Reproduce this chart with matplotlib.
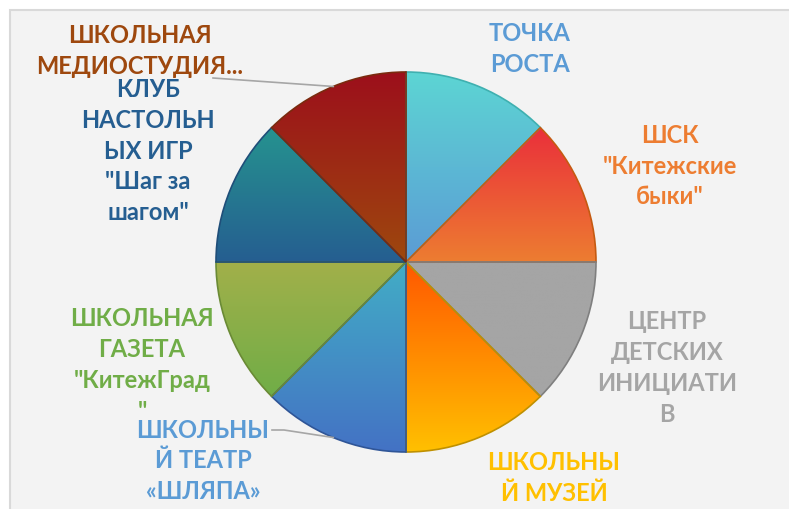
import matplotlib as mpl
mpl.use('Agg')
import matplotlib.pyplot as plt
import numpy as np
from matplotlib.colors import LinearSegmentedColormap
from matplotlib.patches import Rectangle

plt.rcParams['font.family'] = ['Lato', 'Open Sans', 'DejaVu Sans']

# data
labels = ['ТОЧКА\nРОСТА',
          'ШСК\n"Китежские\nбыки"',
          'ЦЕНТР\nДЕТСКИХ\nИНИЦИАТИ\nВ',
          'ШКОЛЬНЫ\nЙ МУЗЕЙ',
          'ШКОЛЬНЫ\nЙ ТЕАТР\n«ШЛЯПА»',
          'ШКОЛЬНАЯ\nГАЗЕТА\n"КитежГрад\n"',
          'КЛУБ\nНАСТОЛЬН\nЫХ ИГР\n"Шаг за\nшагом"',
          'ШКОЛЬНАЯ\nМЕДИОСТУДИЯ...']
values = [1, 1, 1, 1, 1, 1, 1, 1]

# styles: gradient top / bottom, edge, label color
grad_top = ['#5dd5d3', '#ea2f3b', '#a5a5a5', '#ff5800', '#42adc6', '#a2b04a', '#26938f', '#9c0f1b']
grad_bot = ['#5b9bd5', '#ed7d31', '#a5a5a5', '#ffc000', '#4472c4', '#70ad47', '#255e91', '#9e480e']
edge_col = ['#3fb0b0', '#c55a11', '#7f7f7f', '#bf9000', '#2f5597', '#6a8a35', '#1f4e79', '#7a2a0e']
label_col = ['#5b9bd5', '#ed7d31', '#a5a5a5', '#ffc000', '#5b9bd5', '#70ad47', '#255e91', '#9e480e']

W, H = 789, 509
fig = plt.figure(figsize=(W / 100, H / 100), dpi=100)
ax = fig.add_axes([0, 0, 1, 1])

# chart area background
ax.add_patch(Rectangle((10, -20), W + 20, H - 10 + 20, facecolor='#f3f3f3',
                       edgecolor='#d9d9d9', linewidth=1.5, zorder=0))

cx, cy, R = 406, 247, 190
wedges, _ = ax.pie(values, startangle=90, counterclock=False, center=(cx, cy),
                   radius=R, frame=True)

for i, w in enumerate(wedges):
    t = np.radians(np.linspace(w.theta1, w.theta2, 50))
    ys = np.concatenate([[cy], cy + R * np.sin(t)])
    xs = np.concatenate([[cx], cx + R * np.cos(t)])
    cmap = LinearSegmentedColormap.from_list('g%d' % i, [grad_bot[i], grad_top[i]])
    grad = np.linspace(0, 1, 256).reshape(-1, 1)
    im = ax.imshow(grad, cmap=cmap, origin='lower', aspect='auto',
                   extent=(xs.min(), xs.max(), ys.min(), ys.max()), zorder=2)
    im.set_clip_path(w)
    w.set_facecolor('none')
    w.set_edgecolor(edge_col[i])
    w.set_linewidth(1.2)
    w.set_zorder(3)

ax.set_xlim(0, W)
ax.set_ylim(0, H)
ax.set_aspect('equal')
ax.axis('off')

# label layout (pixel positions, y from top)
label_pos = [(530, 49), (670, 166), (667, 368), (554, 478),
             (203, 461), (142, 365), (148, 151), (140, 51)]
for i, (lx, ly) in enumerate(label_pos):
    ax.text(lx, H - ly, labels[i], ha='center', va='center', fontsize=17,
            fontweight='bold', color=label_col[i], linespacing=1.42, zorder=5)

# leader lines
def edge_point(w):
    a = np.radians((w.theta1 + w.theta2) / 2)
    return cx + R * np.cos(a), cy + R * np.sin(a)

ex, ey = edge_point(wedges[7])
ax.plot([213, ex], [H - 78, ey], color='#a6a6a6', linewidth=1.2, zorder=4)
ex, ey = edge_point(wedges[4])
ax.plot([272, 284, ex], [H - 430, H - 430, ey], color='#a6a6a6', linewidth=1.2, zorder=4)

fig.savefig('out.png', dpi=100, facecolor='white')
